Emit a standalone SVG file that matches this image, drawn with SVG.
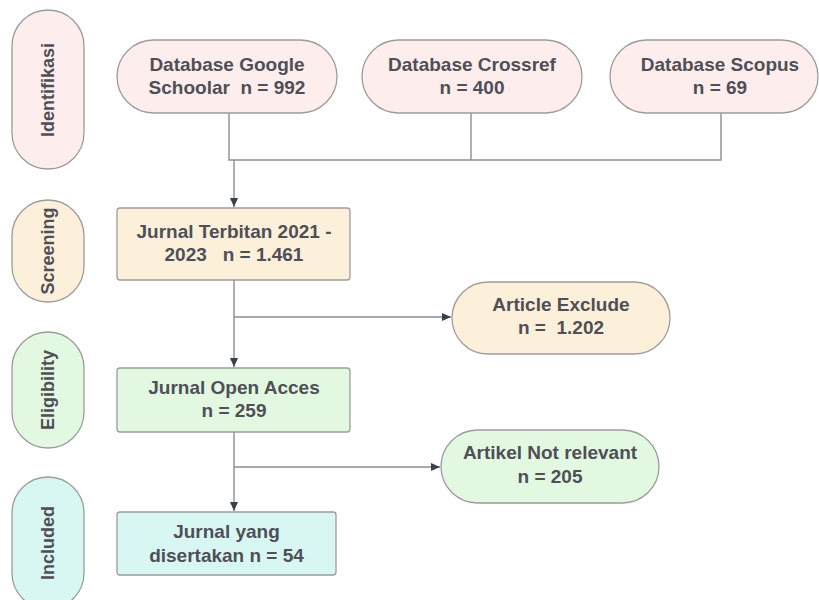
<svg xmlns="http://www.w3.org/2000/svg" width="819" height="600" viewBox="0 0 819 600">
<style>
.t{font-family:"Liberation Sans",Arial,sans-serif;font-weight:bold;font-size:19px;fill:#4f4f57;text-anchor:middle}
.v{font-size:18px}
.pink{fill:#fdeded;stroke:#9c9c9c;stroke-width:1.3}
.cream{fill:#fdf0da;stroke:#9c9c9c;stroke-width:1.3}
.green{fill:#e2f8e1;stroke:#9c9c9c;stroke-width:1.3}
.cyan{fill:#d8f7f3;stroke:#9c9c9c;stroke-width:1.3}
.c{fill:none;stroke:#8a8d96;stroke-width:1.4}
</style>
<defs>
<marker id="ah" markerWidth="10" markerHeight="8" refX="9" refY="4" orient="auto" markerUnits="userSpaceOnUse">
<path d="M0,0 L9,4 L0,8 Z" fill="#3a3f4a"/>
</marker>
</defs>
<g id="connectors">
<path class="c" d="M229,113 V160 H721 V113"/>
<path class="c" d="M471,113 V160"/>
<path class="c" d="M234,160 V207" marker-end="url(#ah)"/>
<path class="c" d="M234,280 V367" marker-end="url(#ah)"/>
<path class="c" d="M234,317 H451" marker-end="url(#ah)"/>
<path class="c" d="M234,432 V511" marker-end="url(#ah)"/>
<path class="c" d="M234,467 H440" marker-end="url(#ah)"/>
</g>
<g id="lbl-identifikasi">
<rect class="pink" x="12" y="10" width="72" height="159" rx="36"/>
<text class="t v" transform="translate(54,90) rotate(-90)">Identifikasi</text>
</g>
<g id="lbl-screening">
<rect class="cream" x="12" y="200" width="72" height="102" rx="36"/>
<text class="t v" transform="translate(54,251) rotate(-90)">Screening</text>
</g>
<g id="lbl-eligibility">
<rect class="green" x="12" y="332" width="72" height="116" rx="36"/>
<text class="t v" transform="translate(54,390) rotate(-90)">Eligibility</text>
</g>
<g id="lbl-included">
<rect class="cyan" x="12" y="477" width="72" height="132" rx="36"/>
<text class="t v" transform="translate(54,543) rotate(-90)">Included</text>
</g>
<g id="google">
<rect class="pink" x="117" y="40" width="220" height="73" rx="36.5"/>
<text class="t" x="227" y="71">Database Google</text>
<text class="t" x="227" y="94" xml:space="preserve">Schoolar  n = 992</text>
</g>
<g id="crossref">
<rect class="pink" x="362" y="40" width="220" height="73" rx="36.5"/>
<text class="t" x="472" y="71">Database Crossref</text>
<text class="t" x="472" y="94">n = 400</text>
</g>
<g id="scopus">
<rect class="pink" x="610" y="40" width="208" height="73" rx="36.5"/>
<text class="t" x="720" y="71">Database Scopus</text>
<text class="t" x="720" y="94">n = 69</text>
</g>
<g id="terbitan">
<rect class="cream" x="117" y="208" width="233" height="72" rx="3"/>
<text class="t" x="234" y="238">Jurnal Terbitan 2021 -</text>
<text class="t" x="234" y="261" xml:space="preserve">2023   n = 1.461</text>
</g>
<g id="exclude">
<rect class="cream" x="452" y="282" width="218" height="72" rx="36"/>
<text class="t" x="561" y="311">Article Exclude</text>
<text class="t" x="561" y="334" xml:space="preserve">n =  1.202</text>
</g>
<g id="openacces">
<rect class="green" x="117" y="368" width="233" height="64" rx="3"/>
<text class="t" x="234" y="394">Jurnal Open Acces</text>
<text class="t" x="234" y="417">n = 259</text>
</g>
<g id="notrelevant">
<rect class="green" x="441" y="430" width="218" height="73" rx="36.5"/>
<text class="t" x="550" y="459">Artikel Not relevant</text>
<text class="t" x="550" y="483">n = 205</text>
</g>
<g id="included">
<rect class="cyan" x="117" y="512" width="219" height="63" rx="3"/>
<text class="t" x="226.5" y="538">Jurnal yang</text>
<text class="t" x="226.5" y="562">disertakan n = 54</text>
</g>
</svg>
